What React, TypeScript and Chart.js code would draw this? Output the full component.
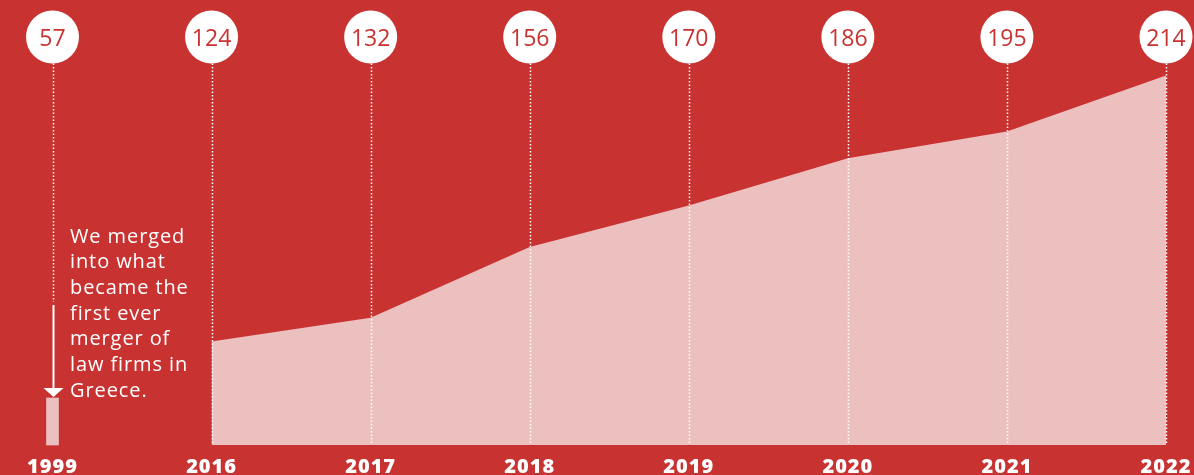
import React, { useEffect, useRef } from "react";
import { Chart, registerables } from "chart.js";

Chart.register(...registerables);

// ---- data ----
const years = ["1999", "2016", "2017", "2018", "2019", "2020", "2021", "2022"];
const lawyers = [57, 124, 132, 156, 170, 186, 195, 214];
const areaValues = [null, 124, 132, 156, 170, 186, 195, 214];
const barValues = [57, null, null, null, null, null, null, null];
const noteLines = [
  "We merged",
  "into what",
  "became the",
  "first ever",
  "merger of",
  "law firms in",
  "Greece.",
];

const RED = "#C83332";
const PINK = "#EDC0C0";
const WHITE = "#FFFFFF";
const FONT = "'Open Sans', 'Noto Sans', sans-serif";

const decorPlugin = {
  id: "decor",
  beforeDraw(chart: any) {
    const { ctx, width, height } = chart;
    ctx.save();
    ctx.fillStyle = RED;
    ctx.fillRect(0, 0, width, height);
    ctx.restore();
  },
  afterDatasetsDraw(chart: any) {
    const { ctx, chartArea } = chart;
    const x = chart.scales.x;
    const base = chartArea.bottom;
    const cy = 37;
    const r = 26.5;
    ctx.save();

    // dotted guide lines
    ctx.strokeStyle = WHITE;
    ctx.lineWidth = 1.5;
    ctx.setLineDash([1.5, 2]);
    years.forEach((_, i) => {
      const px = Math.round(x.getPixelForValue(i)) + 0.5;
      const end = i === 0 ? 302 : base;
      ctx.beginPath();
      ctx.moveTo(px, cy + r);
      ctx.lineTo(px, end);
      ctx.stroke();
    });
    ctx.setLineDash([]);

    // arrow for 1999
    const ax = Math.round(x.getPixelForValue(0)) + 0.5;
    ctx.lineWidth = 2;
    ctx.beginPath();
    ctx.moveTo(ax, 305);
    ctx.lineTo(ax, 390);
    ctx.stroke();
    ctx.fillStyle = WHITE;
    ctx.beginPath();
    ctx.moveTo(ax - 10, 388);
    ctx.lineTo(ax + 10, 388);
    ctx.lineTo(ax, 397);
    ctx.closePath();
    ctx.fill();

    // circles with values
    years.forEach((_, i) => {
      const px = x.getPixelForValue(i);
      ctx.fillStyle = WHITE;
      ctx.beginPath();
      ctx.arc(px, cy, r, 0, Math.PI * 2);
      ctx.fill();
      ctx.fillStyle = RED;
      ctx.font = `400 23px ${FONT}`;
      ctx.textAlign = "center";
      ctx.textBaseline = "alphabetic";
      ctx.fillText(String(lawyers[i]), px, 46);
    });

    // year labels
    ctx.fillStyle = WHITE;
    ctx.font = `800 20px ${FONT}`;
    (ctx as any).letterSpacing = "1px";
    ctx.textAlign = "center";
    years.forEach((y, i) => {
      const px = x.getPixelForValue(i);
      ctx.fillText(y, px, 473);
    });

    // note text
    (ctx as any).letterSpacing = "0.9px";
    ctx.font = `400 20px ${FONT}`;
    ctx.textAlign = "left";
    noteLines.forEach((line, i) => {
      ctx.fillText(line, 70, 242.7 + i * 25.67);
    });
    (ctx as any).letterSpacing = "0px";
    ctx.restore();
  },
};

export default function App() {
  const ref = useRef<HTMLCanvasElement | null>(null);
  useEffect(() => {
    document.body.style.margin = "0";
    if (!ref.current) return;
    const chart = new Chart(ref.current, {
      type: "line",
      data: {
        labels: years,
        datasets: [
          {
            type: "line",
            data: areaValues as any,
            backgroundColor: PINK,
            borderWidth: 0,
            pointRadius: 0,
            fill: "start",
            tension: 0,
            spanGaps: false,
            yAxisID: "y",
          } as any,
          {
            type: "bar",
            data: barValues as any,
            backgroundColor: PINK,
            barThickness: 12,
            clip: false,
            yAxisID: "y1",
          } as any,
        ],
      },
      options: {
        responsive: false,
        animation: false,
        events: [],
        layout: { padding: { left: 52.5, right: 28, top: 0, bottom: 30 } },
        plugins: { legend: { display: false }, tooltip: { enabled: false } },
        scales: {
          x: { display: false, offset: false },
          y: { display: false, min: 89, max: 239.5 },
          y1: { display: false, min: 0, max: 539.7, position: "right" },
        },
      },
      plugins: [decorPlugin],
    });
    return () => chart.destroy();
  }, []);
  return (
    <div style={{ width: 1194, height: 475 }}>
      <canvas ref={ref} width={1194} height={475} style={{ display: "block" }} />
    </div>
  );
}
